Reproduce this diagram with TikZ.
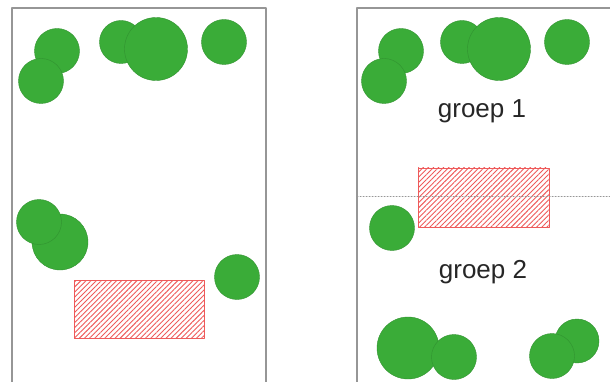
\documentclass[tikz,border=0pt]{standalone}
\usepackage{fontspec}
\setmainfont{Liberation Sans}
\usetikzlibrary{patterns.meta}
\definecolor{treegreen}{RGB}{58,172,56}
\definecolor{zonered}{RGB}{238,90,90}
\definecolor{framegray}{RGB}{150,150,150}
\tikzset{
 tree/.style={fill=treegreen,draw=treegreen!85!black,line width=.4pt},
 zone/.style={draw=zonered,line width=.8pt,
  pattern={Lines[angle=45,distance=3.6pt,line width=.9pt]},pattern color=zonered},
 panel/.style={draw=framegray,line width=1.2pt},
 grouplabel/.style={font=\fontsize{26}{30}\selectfont,text=black!85}
}

\begin{document}
\begin{tikzpicture}[x=1pt,y=-1pt,line cap=round,line join=round]
\useasboundingbox (0,0) rectangle (610,382);
\clip (0,0) rectangle (610,382);
% Linker kavel: bomen rondom, zone onderaan.
\draw[panel] (12,8) rectangle (266,400);
\filldraw[tree] (57,51) circle (22.5);
\filldraw[tree] (41,81) circle (22.5);
\filldraw[tree] (121,42) circle (21.5);
\filldraw[tree] (156,49) circle (31.5);
\filldraw[tree] (224,42) circle (22.5);
\filldraw[tree] (60,242) circle (28);
\filldraw[tree] (39,222) circle (22.5);
\filldraw[tree] (237,277) circle (22.5);
\draw[zone] (74,280) rectangle (204,338);
% Rechter kavel: zone in het midden, twee groepen.
\draw[panel] (357,8) rectangle (612,400);
\filldraw[tree] (401,51) circle (22.5);
\filldraw[tree] (384,81) circle (22.5);
\filldraw[tree] (462,42) circle (21.5);
\filldraw[tree] (499,49) circle (31.5);
\filldraw[tree] (567,42) circle (22.5);
\node[grouplabel] (groep1) at (482,111) {groep 1};
\draw[zone] (418,168) rectangle (549,227);
\draw[framegray,line width=1pt,dotted] (357,197)--(612,197);
\filldraw[tree] (392,228) circle (22.5);
\node[grouplabel] (groep2) at (483,272) {groep 2};
\filldraw[tree] (408,348) circle (31);
\filldraw[tree] (454,357) circle (22.5);
\filldraw[tree] (577,341) circle (22);
\filldraw[tree] (552,356) circle (22.5);
\end{tikzpicture}
\end{document}
